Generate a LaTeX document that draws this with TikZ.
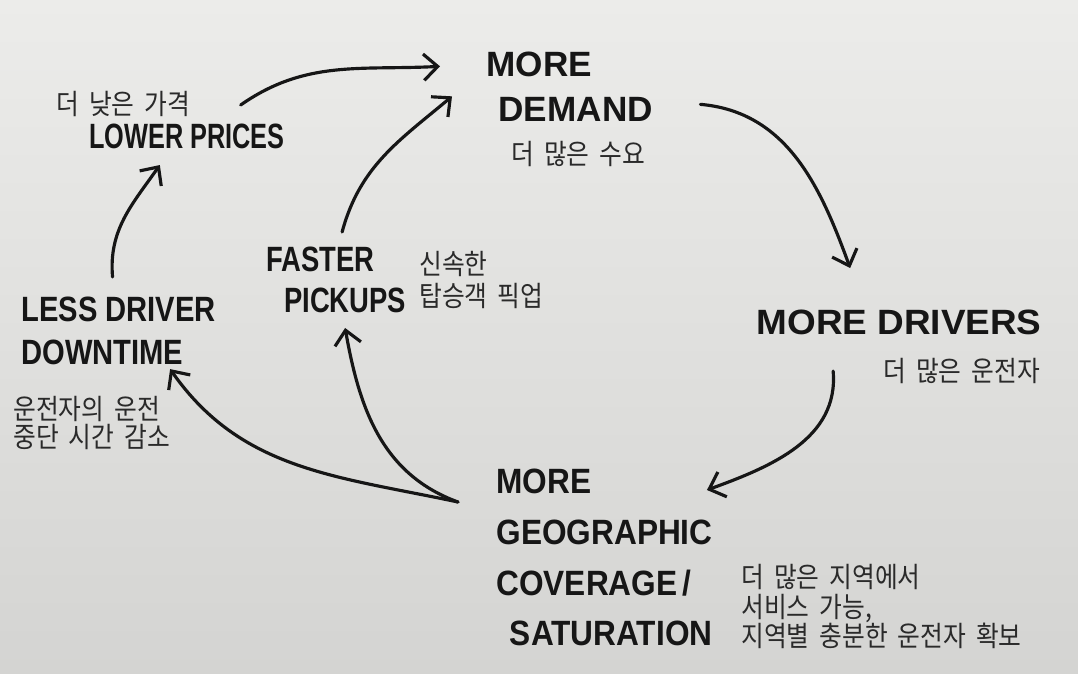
\documentclass[tikz,border=0pt]{standalone}
\usepackage{fontspec}
\setmainfont{Liberation Sans}
\newfontfamily\kr[WordSpace=1.8]{Noto Sans CJK KR}
\usetikzlibrary{arrows.meta}
\usetikzlibrary{calc}
\definecolor{paper1}{RGB}{236,236,234}
\definecolor{paper2}{RGB}{212,212,210}
\definecolor{ink1}{RGB}{22,22,22}
\definecolor{ink2}{RGB}{42,42,42}

\begin{document}
\begin{tikzpicture}[x=0.02cm, y=0.02cm, line width=1.8pt,
  hand/.style={anchor=north west, inner sep=0pt, align=left, text=ink1, font=\bfseries\fontsize{20}{#1}\selectfont},
  hand/.default=24,
  kor/.style={anchor=north west, inner sep=0pt, align=left, text=ink2, xscale=0.88, font=\kr\fontsize{16}{#1}\selectfont},
  kor/.default=17,
  arr/.style={draw=ink1, line cap=round, -{Straight Barb[length=8pt,width=15pt]}}]
 \useasboundingbox (0,0) rectangle (1078,-673);
 \shade[top color=paper1, bottom color=paper2] (0,0) rectangle (1078,-673);

  \node[hand=25.6] (dem) at (485,-50) {MORE\\\hspace{0.24cm}DEMAND};
  \node[kor] (demk) at (510,-140) {더 많은 수요};

  \node[hand, xscale=1.05] (drv) at (755,-308) {MORE DRIVERS};
  \node[kor] (drvk) at (882,-357) {더 많은 운전자};

  \node[hand=29, xscale=0.9] (geo) at (495,-467) {MORE\\GEOGRAPHIC\\COVERAGE\,/\\\hspace{0.3cm}SATURATION};
  \node[kor=16.8] (geok) at (740,-563) {더 많은 지역에서\\서비스 가능,\\지역별 충분한 운전자 확보};

  \node[hand=24.5, xscale=0.83] (down) at (20,-295) {LESS DRIVER\\DOWNTIME};
  \node[kor=16] (downk) at (12,-395) {운전자의 운전\\중단 시간 감소};

  \node[hand=23.3, xscale=0.78] (pick) at (265,-245) {FASTER\\\hspace{0.46cm}PICKUPS};
  \node[kor=18.2] (pickk) at (418,-250) {신속한\\탑승객 픽업};

  \node[hand, xscale=0.72] (price) at (88,-122) {LOWER PRICES};
  \node[kor] (pricek) at (55,-90) {더 낮은 가격};

  % ends of the loop arrows
  \coordinate (a1) at ($(price.north east)+(-45,17)$);
  \coordinate (b1) at ($(dem.west)+(-45,20)$);
  \coordinate (a2) at ($(pick.north)+(6,13)$);
  \coordinate (b2) at ($(dem.west)+(-33,-10)$);
  \coordinate (a3) at ($(dem.east)+(46,-18)$);
  \coordinate (b3) at ($(drv.north)+(-49,40)$);
  \coordinate (a4) at ($(drv.south)+(-66,-35)$);
  \coordinate (b4) at ($(geo.north east)+(-7,-23)$);
  \coordinate (a5) at ($(geo.north west)+(-37,-35)$);
  \coordinate (b5) at ($(down.south east)+(-47,-3)$);
  \coordinate (b6) at ($(pick.south)+(9,-14)$);
  \coordinate (a7) at ($(down.north)+(-6,18)$);
  \coordinate (b7) at ($(price.south)+(-27,-15)$);

  \foreach \from/\to/\o/\i in {a1/b1/35/183, a2/b2/75/-140, a3/b3/-5/110, a4/b4/-85/20,
                               a5/b5/168/-55, a5/b6/160/-80, a7/b7/95/-125}
   \draw[arr] (\from) to[out=\o, in=\i] (\to);
\end{tikzpicture}
\end{document}
